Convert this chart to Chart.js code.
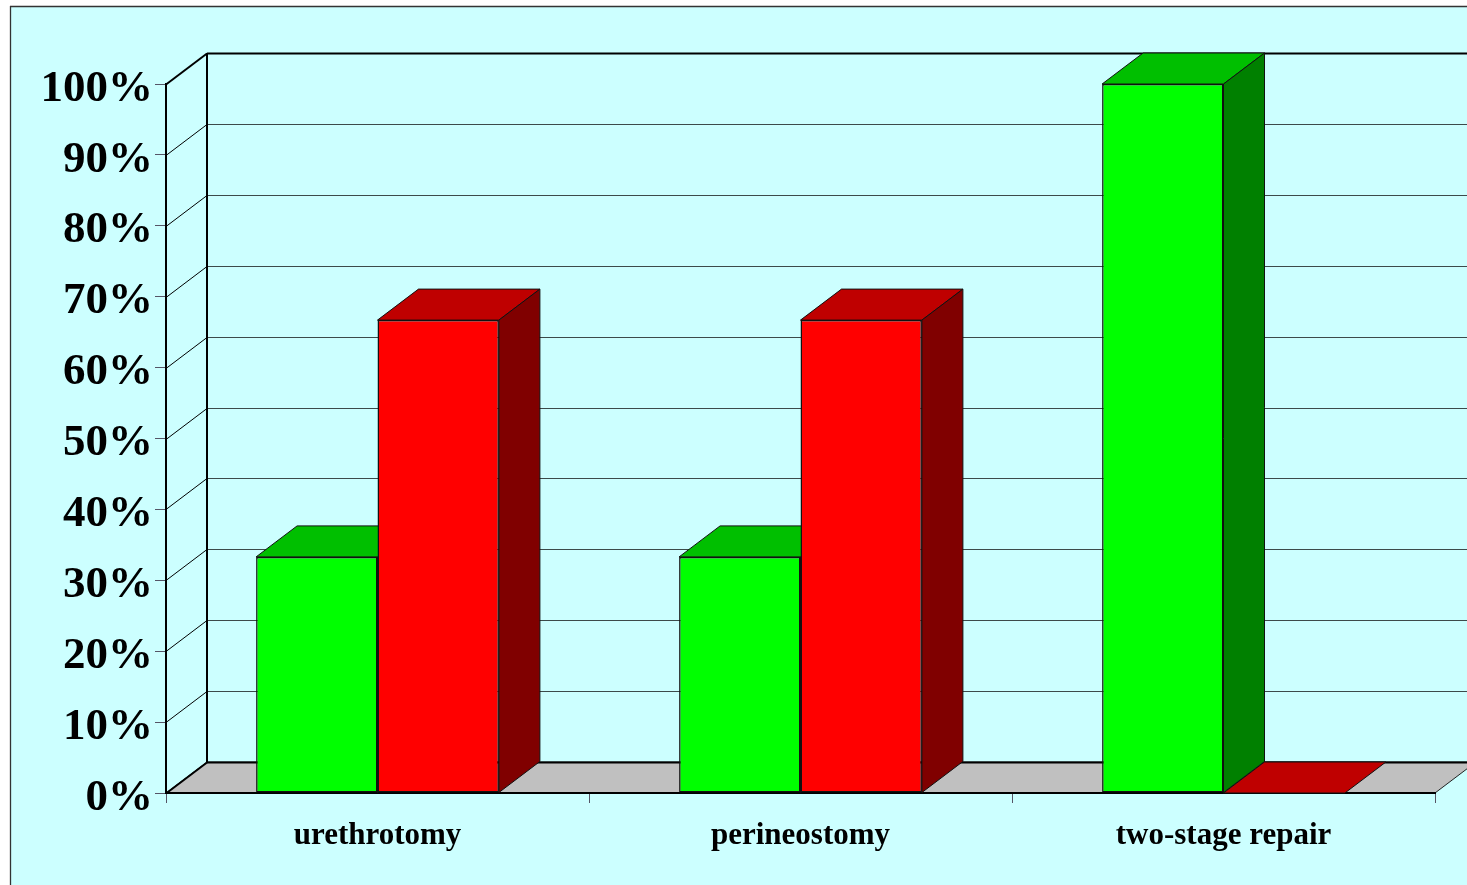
<!DOCTYPE html>
<html>
<head>
<meta charset="utf-8">
<style>html,body{margin:0;padding:0;background:#fff;overflow:hidden}canvas{display:block}</style>
<script src="https://cdn.jsdelivr.net/npm/chart.js@4"></script>
</head>
<body>
<canvas id="c" width="1467" height="885"></canvas>
<script>
const categories = ['urethrotomy', 'perineostomy', 'two-stage repair'];
const greenValues = [33.3, 33.3, 100];
const redValues = [66.7, 66.7, 0];
const yMax = 100;
const yStep = 10;

const DX = 41, DY = 31;
const shade = {
  '#00FF00': {top: '#00BF00', side: '#008000'},
  '#FF0000': {top: '#BF0000', side: '#800000'}
};
function poly(ctx, pts, fill, stroke, lw) {
  ctx.beginPath();
  pts.forEach((p, i) => i ? ctx.lineTo(p[0], p[1]) : ctx.moveTo(p[0], p[1]));
  ctx.closePath();
  if (fill) { ctx.fillStyle = fill; ctx.fill(); }
  if (stroke) { ctx.strokeStyle = stroke; ctx.lineWidth = lw || 1; ctx.stroke(); }
}
function seg(ctx, x1, y1, x2, y2, color, lw) {
  ctx.beginPath(); ctx.moveTo(x1, y1); ctx.lineTo(x2, y2);
  ctx.strokeStyle = color; ctx.lineWidth = lw; ctx.stroke();
}
const box3d = {
  id: 'box3d',
  beforeDraw(chart) {
    const ctx = chart.ctx, a = chart.chartArea, y = chart.scales.y;
    const W = chart.width, H = chart.height;
    ctx.save();
    ctx.fillStyle = '#fff'; ctx.fillRect(0, 0, W, H);
    ctx.fillStyle = '#CCFFFF'; ctx.fillRect(10, 6, W, H);
    seg(ctx, 10.5, 6, 10.5, H, '#333', 1.3);
    seg(ctx, 10, 6.5, W, 6.5, '#333', 1.3);
    const b = a.bottom, l = a.left, r = a.right;
    poly(ctx, [[l, b], [l + DX, b - DY], [r + DX, b - DY], [r, b]], '#C0C0C0', '#222', 1);
    y.ticks.forEach(t => {
      const py = Math.round(y.getPixelForValue(t.value)) + 0.5;
      const edge = t.value === 0 || t.value === yMax;
      seg(ctx, l + DX, py - DY, W, py - DY, edge ? '#000' : '#3c4a4a', edge ? 2 : 1);
      seg(ctx, l, py, l + DX, py - DY, '#000', edge ? 2 : 1);
    });
    seg(ctx, l + DX, a.top - DY, l + DX, b - DY, '#000', 2);
    ctx.restore();
  },
  beforeDatasetsDraw(chart) {
    const ctx = chart.ctx;
    ctx.save();
    chart.data.datasets.forEach((ds, i) => {
      const col = ds.backgroundColor;
      chart.getDatasetMeta(i).data.forEach(bar => {
        const p = bar.getProps(['x', 'y', 'base', 'width'], true);
        const x0 = p.x - p.width / 2, x1 = p.x + p.width / 2;
        poly(ctx, [[x0, p.y], [x0 + DX, p.y - DY], [x1 + DX, p.y - DY], [x1, p.y]], shade[col].top, '#111', 1);
        if (p.base - p.y > 0.5)
          poly(ctx, [[x1, p.y], [x1 + DX, p.y - DY], [x1 + DX, p.base - DY], [x1, p.base]], shade[col].side, '#111', 1);
      });
    });
    ctx.restore();
  }
};
new Chart(document.getElementById('c'), {
  type: 'bar',
  plugins: [box3d],
  data: {
    labels: categories,
    datasets: [
      {label: 'green', data: greenValues, backgroundColor: '#00FF00', borderColor: '#111', borderWidth: 1.5, borderSkipped: false},
      {label: 'red', data: redValues, backgroundColor: '#FF0000', borderColor: '#111', borderWidth: 1.5, borderSkipped: false}
    ]
  },
  options: {
    responsive: false,
    animation: false,
    devicePixelRatio: 1,
    layout: {padding: {left: 0, right: 32, top: 84, bottom: 0}},
    plugins: {legend: {display: false}, title: {display: false}, tooltip: {enabled: false}},
    datasets: {bar: {categoryPercentage: 0.574, barPercentage: 1}},
    scales: {
      x: {
        afterFit(s) { s.height = 92; },
        grid: {drawOnChartArea: false, drawTicks: true, tickLength: 10, tickColor: '#556', lineWidth: 1},
        border: {color: '#000', width: 2},
        ticks: {color: '#000', maxRotation: 0, padding: 14, font: {family: 'Liberation Serif', weight: 'bold', size: 31}}
      },
      y: {
        min: 0, max: yMax,
        afterFit(s) { s.width = 166; },
        grid: {drawOnChartArea: false, drawTicks: true, tickLength: 11, tickColor: '#556', lineWidth: 1},
        border: {color: '#000', width: 2},
        ticks: {stepSize: yStep, color: '#000', padding: 2, labelOffset: 5, callback: v => v + '%', font: {family: 'Liberation Serif', weight: 'bold', size: 45}}
      }
    }
  }
});
</script>
</body>
</html>
